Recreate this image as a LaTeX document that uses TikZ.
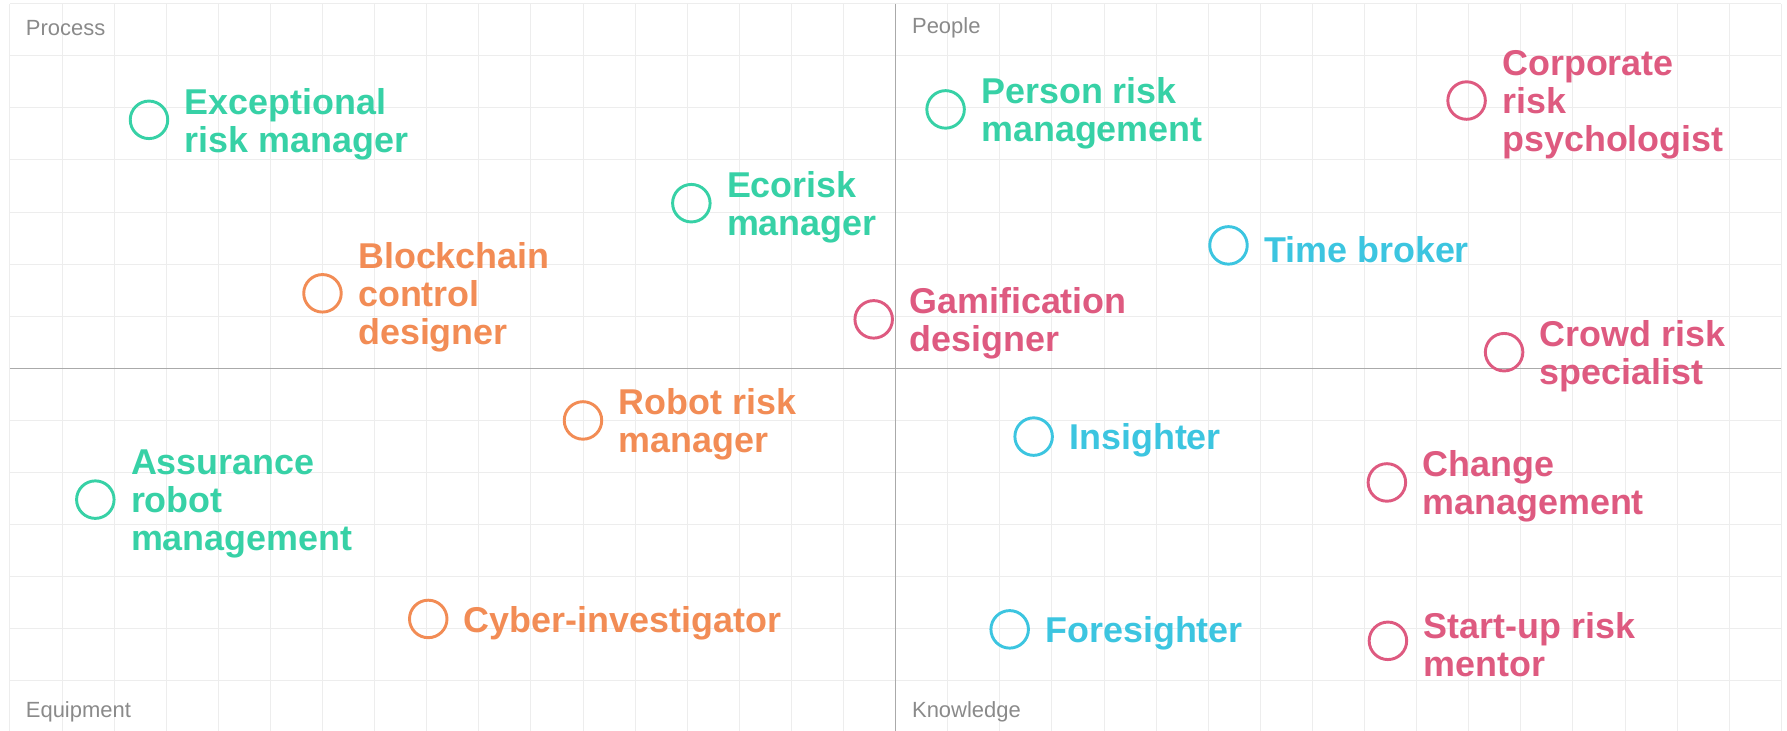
\documentclass[tikz,border=0pt]{standalone}
\usepackage{fontspec}
\setmainfont{Liberation Sans}
\usepackage{xcolor}
\usepackage{tikz}
\usetikzlibrary{positioning}

\definecolor{mint}{HTML}{37D1A6}
\definecolor{peach}{HTML}{F28C55}
\definecolor{rose}{HTML}{DE5A80}
\definecolor{sky}{HTML}{3CC5E0}
\definecolor{gridgray}{HTML}{EDEDED}
\definecolor{axisgray}{HTML}{AAAAAA}
\definecolor{cornergray}{HTML}{8A8A8A}

\begin{document}
\begin{tikzpicture}[node distance=0.29cm,
    dot/.style={draw, circle, minimum size=0.72cm, inner sep=0pt, line width=1.6pt},
    lbl/.style={inner sep=0pt, align=left, yshift=-0.08cm, font=\fontsize{19.6}{20.8}\selectfont\bfseries},
    corner/.style={inner sep=0pt, anchor=west, text=cornergray, font=\fontsize{12}{14}\selectfont}]
            \useasboundingbox (-17.19,-6.96) rectangle (17.11,7.07);
            % Grid and axes
            \draw[gridgray, line width=0.5pt] (-17,-7) grid (17,7);
            \draw[axisgray, line width=0.8pt] (-17,0) -- (17,0);
            \draw[axisgray, line width=0.8pt] (0,-7) -- (0,7);

            % Corners
            \node[corner] (process) at (-16.7,6.54) {Process};
            \node[corner] (people) at (0.31,6.54) {People};
            \node[corner] (equipment) at (-16.7,-6.59) {Equipment};
            \node[corner] (knowledge) at (0.31,-6.59) {Knowledge};

            % Process
            \node[dot, mint] (excpt) at (-14.33,4.77) {};
            \node[lbl, mint, right=of excpt] (excptlbl) {Exceptional\\risk manager};
            \node[dot, mint] (eco) at (-3.92,3.17) {};
            \node[lbl, mint, right=of eco] (ecolbl) {Ecorisk\\manager};
            \node[dot, peach] (block) at (-11.0,1.44) {};
            \node[lbl, peach, right=of block] (blocklbl) {Blockchain\\control\\designer};

            % People
            \node[dot, mint] (person) at (0.96,4.97) {};
            \node[lbl, mint, right=of person] (personlbl) {Person risk\\management};
            \node[dot, rose] (corp) at (10.96,5.14) {};
            \node[lbl, rose, right=of corp] (corplbl) {Corporate\\risk\\psychologist};
            \node[dot, sky] (time) at (6.39,2.36) {};
            \node[lbl, sky, right=of time] (timelbl) {Time broker};
            \node[dot, rose] (gami) at (-0.42,0.94) {};
            \node[lbl, rose, right=of gami] (gamilbl) {Gamification\\designer};
            \node[dot, rose] (crowd) at (11.68,0.31) {};
            \node[lbl, rose, right=of crowd] (crowdlbl) {Crowd risk\\specialist};

            % Equipment
            \node[dot, peach] (robot) at (-6.0,-1.0) {};
            \node[lbl, peach, right=of robot] (robotlbl) {Robot risk\\manager};
            \node[dot, mint] (assur) at (-15.36,-2.52) {};
            \node[lbl, mint, right=of assur] (assurlbl) {Assurance\\robot\\management};
            \node[dot, peach] (cyber) at (-8.97,-4.81) {};
            \node[lbl, peach, right=of cyber] (cyberlbl) {Cyber-investigator};

            % Knowledge
            \node[dot, sky] (insight) at (2.65,-1.31) {};
            \node[lbl, sky, right=of insight] (insightlbl) {Insighter};
            \node[dot, rose] (change) at (9.43,-2.19) {};
            \node[lbl, rose, right=of change] (changelbl) {Change\\management};
            \node[dot, sky] (fore) at (2.19,-5.01) {};
            \node[lbl, sky, right=of fore] (forelbl) {Foresighter};
            \node[dot, rose] (startup) at (9.45,-5.23) {};
            \node[lbl, rose, right=of startup] (startuplbl) {Start-up risk\\mentor};
\end{tikzpicture}
\end{document}
